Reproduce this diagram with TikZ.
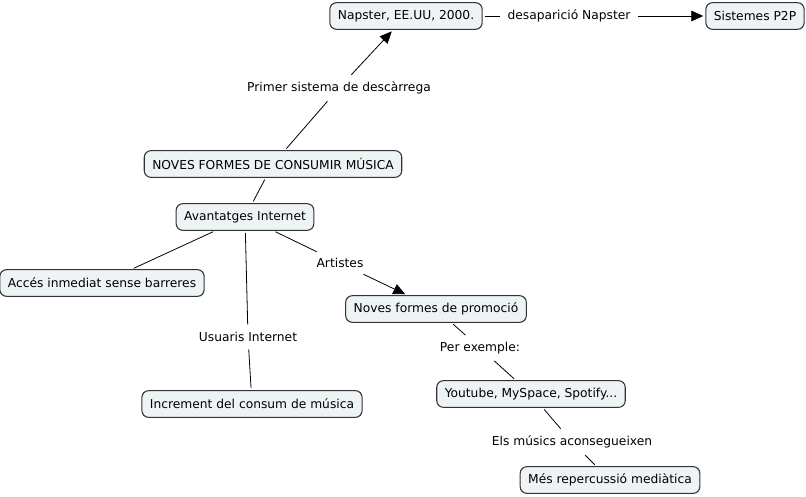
\documentclass[tikz,border=0pt]{standalone}
\usepackage{fontspec}
\setmainfont{DejaVu Sans}
\usetikzlibrary{arrows.meta}
\definecolor{boxfill}{HTML}{EEF3F6}
\definecolor{boxline}{HTML}{333333}
\tikzset{
  concept/.style={draw=boxline, line width=0.8pt, fill=boxfill, rounded corners=5pt,
    inner xsep=6pt, inner ysep=0pt, minimum height=20pt, font=\fontsize{9.2pt}{11pt}\selectfont},
  lab/.style={inner sep=4pt, font=\fontsize{9.2pt}{11pt}\selectfont},
  conn/.style={draw, line width=0.6pt, shorten <=1.5pt, shorten >=1.5pt},
  arr/.style={conn, -{Triangle[length=9pt,width=8pt]}}
}
\begin{document}
\begin{tikzpicture}[x=0.75pt,y=-0.75pt]
\useasboundingbox (0,0) rectangle (806,496);
\node[concept] (nap) at (406,16) {Napster, EE.UU, 2000.};
\node[concept] (p2p) at (755,16) {Sistemes P2P};
\node[concept] (noves) at (273,164) {NOVES FORMES DE CONSUMIR MÚSICA};
\node[concept] (avant) at (245,217) {Avantatges Internet};
\node[concept] (acces) at (102,283) {Accés inmediat sense barreres};
\node[concept] (incr) at (252,404) {Increment del consum de música};
\node[concept] (prom) at (436,309) {Noves formes de promoció};
\node[concept] (you) at (531,394) {Youtube, MySpace, Spotify...};
\node[concept] (mes) at (610,480) {Més repercussió mediàtica};

\node[lab] (l1) at (339,88) {Primer sistema de descàrrega};
\node[lab] (l2) at (569,16) {desaparició Napster};
\node[lab] (l3) at (340,263) {Artistes};
\node[lab] (l4) at (248,337) {Usuaris Internet};
\node[lab] (l5) at (480,348) {Per exemple:};
\node[lab] (l6) at (572,442) {Els músics aconsegueixen};

\draw[conn] (noves) -- (l1);
\draw[arr] (l1) -- (nap);
\draw[conn] (nap) -- (l2);
\draw[arr] (l2) -- (p2p);
\draw[conn] (noves) -- (avant);
\draw[conn] (avant) -- (acces);
\draw[conn] (avant) -- (l4);
\draw[conn] (l4) -- (incr);
\draw[conn] (avant) -- (l3);
\draw[arr] (l3) -- (prom);
\draw[conn] (prom) -- (l5);
\draw[conn] (l5) -- (you);
\draw[conn] (you) -- (l6);
\draw[conn] (l6) -- (mes);
\end{tikzpicture}
\end{document}
